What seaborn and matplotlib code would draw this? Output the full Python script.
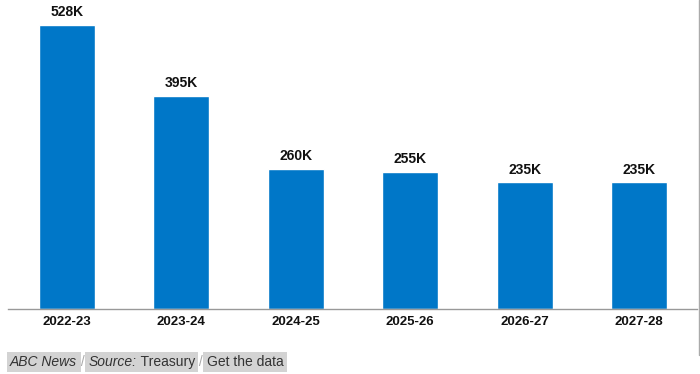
import matplotlib
matplotlib.use("Agg")
import matplotlib.pyplot as plt
import seaborn as sns
import pandas as pd

years = ["2022-23", "2023-24", "2024-25", "2025-26", "2026-27", "2027-28"]
migration = [528, 395, 260, 255, 235, 235]
labels = ["528K", "395K", "260K", "255K", "235K", "235K"]

BLUE = "#0077C8"

sns.set_style("white")
plt.rcParams["font.family"] = ["Liberation Sans", "DejaVu Sans"]

df = pd.DataFrame({"year": years, "value": migration})

fig = plt.figure(figsize=(7, 3.74), dpi=100)
ax = fig.add_axes([8 / 700, (374 - 309) / 374, 689 / 700, 309 / 374])
sns.barplot(data=df, x="year", y="value", color=BLUE, width=0.49,
            saturation=1, ax=ax)

ax.set_xlim(-0.515, 5.505)
ax.set_ylim(0, 574)
for i, (v, lab) in enumerate(zip(migration, labels)):
    ax.text(i, v + 11, lab, ha="center", va="bottom", fontsize=10,
            fontweight="bold", color="#111111")

ax.set_xlabel("")
ax.set_ylabel("")
ax.set_yticks([])
ax.tick_params(axis="x", length=0, pad=5)
for t in ax.get_xticklabels():
    t.set_fontweight("bold")
    t.set_fontsize(9.5)
    t.set_color("#111111")
for s in ["top", "left", "right"]:
    ax.spines[s].set_visible(False)
ax.spines["bottom"].set_color("#999999")
ax.spines["bottom"].set_linewidth(1)

# thin border line on the right edge
fig.add_artist(plt.Line2D([699 / 700, 699 / 700], [(374 - 355) / 374, 1],
                          color="#aaaaaa", linewidth=1))

# footer
box = dict(facecolor="#d3d3d3", edgecolor="none", pad=2.5)
txt = "#333333"
t1 = fig.text(10 / 700, 1 - 362 / 374, "ABC News", fontsize=10, style="italic",
              color=txt, va="center", bbox=box)
t2 = ax.annotate(" / ", xy=(1, 0.5), xycoords=t1, va="center", ha="left",
                 fontsize=10, color="#aaaaaa", annotation_clip=False)
t3 = ax.annotate("Source:", xy=(1, 0.5), xycoords=t2, va="center", ha="left",
                 fontsize=10, style="italic", color=txt, bbox=box,
                 annotation_clip=False, zorder=5)
t4 = ax.annotate(" Treasury", xy=(1, 0.5), xycoords=t3, va="center", ha="left",
                 fontsize=10, color=txt, bbox=box, annotation_clip=False,
                 zorder=4)
t5 = ax.annotate(" / ", xy=(1, 0.5), xycoords=t4, va="center", ha="left",
                 fontsize=10, color="#aaaaaa", annotation_clip=False)
t6 = ax.annotate("Get the data", xy=(1, 0.5), xycoords=t5, va="center",
                 ha="left", fontsize=10, color=txt, bbox=box,
                 annotation_clip=False)

fig.savefig("out.png", dpi=100)
